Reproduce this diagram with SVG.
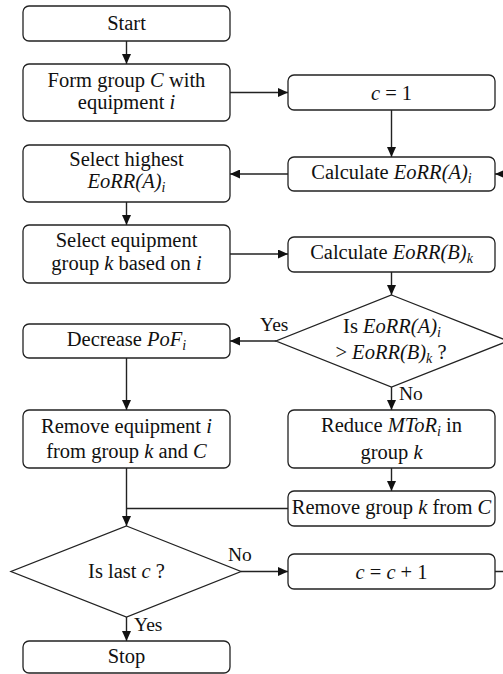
<svg xmlns="http://www.w3.org/2000/svg" width="503" height="674" viewBox="0 0 503 674">
  <defs>
    <marker id="arrow" viewBox="0 0 10 9" markerWidth="10" markerHeight="9" refX="10" refY="4.5" orient="auto" markerUnits="userSpaceOnUse">
      <path d="M0,0 L10,4.5 L0,9 Z" fill="#111"/>
    </marker>
    <style>
      .box { fill: #fff; stroke: #222; stroke-width: 1.3; }
      .dec { fill: #fff; stroke: #222; stroke-width: 1.3; }
      .edge { fill: none; stroke: #222; stroke-width: 1.4; }
      .arr { marker-end: url(#arrow); }
      text { font-family: 'Liberation Serif', 'Times New Roman', 'DejaVu Serif', serif; font-size: 20.5px; fill: #111; text-anchor: middle; }
      .lbl { font-size: 19.5px; text-anchor: start; }
      .it { font-style: italic; }
      .sub { font-size: 14px; font-style: italic; }
    </style>
  </defs>

  <rect width="503" height="674" fill="#fff"/>

  <g font-family="Liberation Serif, Times New Roman, serif">
  <!-- connectors -->
  <g id="connectors">
    <line class="edge arr" x1="126.5" y1="41" x2="126.5" y2="64"/>
    <line class="edge arr" x1="230" y1="92.5" x2="288" y2="92.5"/>
    <line class="edge arr" x1="391.5" y1="110" x2="391.5" y2="157"/>
    <line class="edge arr" x1="288" y1="174" x2="230" y2="174"/>
    <line class="edge arr" x1="126.5" y1="202" x2="126.5" y2="225"/>
    <line class="edge arr" x1="230" y1="254" x2="288" y2="254"/>
    <line class="edge arr" x1="391.5" y1="272" x2="391.5" y2="295"/>
    <line class="edge arr" x1="276" y1="341" x2="230" y2="341"/>
    <line class="edge arr" x1="391.5" y1="387" x2="391.5" y2="410"/>
    <line class="edge arr" x1="126.5" y1="358" x2="126.5" y2="410"/>
    <line class="edge arr" x1="391.5" y1="468" x2="391.5" y2="491"/>
    <line class="edge arr" x1="126.5" y1="468" x2="126.5" y2="526"/>
    <line class="edge" x1="288" y1="508.5" x2="126.5" y2="508.5"/>
    <line class="edge arr" x1="241" y1="571.5" x2="288" y2="571.5"/>
    <line class="edge arr" x1="126.5" y1="617" x2="126.5" y2="641"/>
    <path class="edge arr" d="M495,571.5 H514 V174 H495"/>
    <text class="lbl" x="260" y="331">Yes</text>
    <text class="lbl" x="399" y="400">No</text>
    <text class="lbl" x="228" y="561">No</text>
    <text class="lbl" x="134" y="631">Yes</text>
  </g>

  <g id="start">
    <rect class="box" x="23" y="6" width="207" height="35" rx="6"/>
    <text x="126.5" y="30">Start</text>
  </g>

  <g id="form-group">
    <rect class="box" x="23" y="64" width="207" height="57" rx="6"/>
    <text x="126.5" y="87">Form group <tspan class="it">C</tspan> with</text>
    <text x="126.5" y="109">equipment <tspan class="it">i</tspan></text>
  </g>

  <g id="c-init">
    <rect class="box" x="288" y="75" width="207" height="35" rx="6"/>
    <text x="391.5" y="99.5"><tspan class="it">c</tspan> = 1</text>
  </g>

  <g id="select-highest">
    <rect class="box" x="23" y="145" width="207" height="57" rx="6"/>
    <text x="126.5" y="166">Select highest</text>
    <text x="126.5" y="188"><tspan class="it">EoRR(A)</tspan><tspan class="sub" dy="4">i</tspan></text>
  </g>

  <g id="calc-a">
    <rect class="box" x="288" y="157" width="207" height="34" rx="6"/>
    <text x="391.5" y="178.5">Calculate <tspan class="it">EoRR(A)</tspan><tspan class="sub" dy="4">i</tspan></text>
  </g>

  <g id="select-group">
    <rect class="box" x="23" y="225" width="207" height="58" rx="6"/>
    <text x="126.5" y="247">Select equipment</text>
    <text x="126.5" y="270">group <tspan class="it">k</tspan> based on <tspan class="it">i</tspan></text>
  </g>

  <g id="calc-b">
    <rect class="box" x="288" y="237" width="207" height="35" rx="6"/>
    <text x="391.5" y="258.5">Calculate <tspan class="it">EoRR(B)</tspan><tspan class="sub" dy="4">k</tspan></text>
  </g>

  <g id="compare">
    <polygon class="dec" points="391.5,295 508,341 391.5,387 276,341"/>
    <text x="392" y="333">Is <tspan class="it">EoRR(A)</tspan><tspan class="sub" dy="4">i</tspan></text>
    <text x="391" y="359">&gt; <tspan class="it">EoRR(B)</tspan><tspan class="sub" dy="4">k</tspan><tspan dy="-4"> ?</tspan></text>
  </g>

  <g id="decrease-pof">
    <rect class="box" x="23" y="324" width="207" height="34" rx="6"/>
    <text x="126.5" y="345.5">Decrease <tspan class="it">PoF</tspan><tspan class="sub" dy="4">i</tspan></text>
  </g>

  <g id="remove-equipment">
    <rect class="box" x="23" y="410" width="207" height="58" rx="6"/>
    <text x="126.5" y="433">Remove equipment <tspan class="it">i</tspan></text>
    <text x="126.5" y="458">from group <tspan class="it">k</tspan> and <tspan class="it">C</tspan></text>
  </g>

  <g id="reduce-mtor">
    <rect class="box" x="288" y="410" width="207" height="58" rx="6"/>
    <text x="391.5" y="432">Reduce <tspan class="it">MToR</tspan><tspan class="sub" dy="4">i</tspan><tspan dy="-4"> in</tspan></text>
    <text x="391.5" y="459">group <tspan class="it">k</tspan></text>
  </g>

  <g id="remove-group">
    <rect class="box" x="288" y="491" width="207" height="35" rx="6"/>
    <text x="391.5" y="514">Remove group <tspan class="it">k</tspan> from <tspan class="it">C</tspan></text>
  </g>

  <g id="is-last">
    <polygon class="dec" points="126.5,526 241,571.5 126.5,617 11,571.5"/>
    <text x="126.5" y="578">Is last <tspan class="it">c</tspan> ?</text>
  </g>

  <g id="c-increment">
    <rect class="box" x="288" y="554" width="207" height="35" rx="6"/>
    <text x="391.5" y="578.5"><tspan class="it">c</tspan> = <tspan class="it">c</tspan> + 1</text>
  </g>

  <g id="stop">
    <rect class="box" x="23" y="641" width="207" height="32" rx="6"/>
    <text x="126.5" y="663">Stop</text>
  </g>
  </g>
</svg>
